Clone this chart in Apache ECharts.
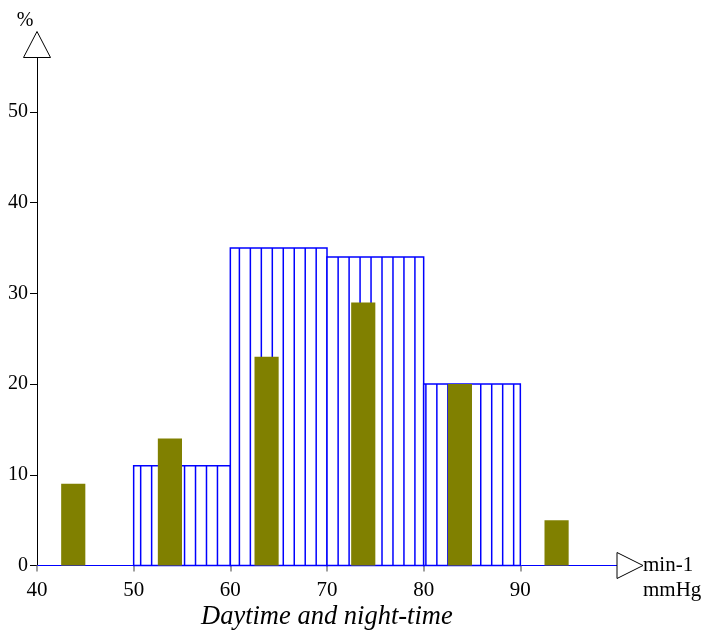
<!DOCTYPE html>
<html>
<head>
<meta charset="utf-8">
<script src="https://cdn.jsdelivr.net/npm/echarts@6/dist/echarts.min.js"></script>
<style>
html,body{margin:0;padding:0;background:#fff;}
#chart{width:706px;height:630px;}
</style>
</head>
<body>
<div id="chart"></div>
<script>
// ---- data ----
var binStarts = [50, 60, 70, 80];
var binEnds = [60, 70, 80, 90];
var binValues = [11, 35, 34, 20];           // hatched blue histogram (%)
var oliveBins = [40, 50, 60, 70, 80, 90];
var oliveValues = [9, 14, 23, 29, 20, 5];   // olive bars (%)
var xTickLabels = [40, 50, 60, 70, 80, 90];
var yTickLabels = [0, 10, 20, 30, 40, 50];
var titleText = 'Daytime and night-time';
var yUnit = '%';
var xUnit1 = 'min-1';
var xUnit2 = 'mmHg';

var FONT = '"Liberation Serif", "Times New Roman", serif';
var chart = echarts.init(document.getElementById('chart'), null, {renderer: 'canvas'});

var blueData = binStarts.map(function (s, i) { return [s, binEnds[i], binValues[i]]; });
var oliveData = oliveBins.map(function (b, i) { return [b, oliveValues[i]]; });

var option = {
  backgroundColor: '#fff',
  animation: false,
  grid: {left: 37, right: 89, top: 57.5, bottom: 64.5, containLabel: false},
  xAxis: {
    type: 'value', min: 40, max: 100, interval: 10,
    splitLine: {show: false},
    axisLine: {show: true, onZero: false, lineStyle: {color: '#0000ff', width: 1}},
    axisTick: {show: true, length: 6, customValues: xTickLabels, lineStyle: {color: '#808080', width: 1.5}},
    axisLabel: {customValues: xTickLabels, color: '#000', fontFamily: FONT, fontSize: 21, margin: 14}
  },
  yAxis: {
    type: 'value', min: 0, max: 56, interval: 10,
    splitLine: {show: false},
    axisLine: {show: true, lineStyle: {color: '#000', width: 1}},
    axisTick: {show: true, length: 7, customValues: yTickLabels, lineStyle: {color: '#000'}},
    axisLabel: {customValues: yTickLabels, color: '#000', fontFamily: FONT, fontSize: 20, margin: 9}
  },
  title: {
    text: titleText, left: 196, top: 599,
    textStyle: {fontFamily: FONT, fontStyle: 'italic', fontWeight: 'normal', fontSize: 26.5, color: '#000'}
  },
  series: [
    {
      type: 'custom', name: 'hatched', z: 2, clip: false,
      data: blueData,
      encode: {x: [0, 1], y: 2},
      renderItem: function (params, api) {
        var p0 = api.coord([api.value(0), 0]);
        var p1 = api.coord([api.value(1), api.value(2)]);
        var anchor = api.coord([binStarts[0], 0])[0] + 7;
        var step = 10.97;
        var children = [];
        var x0 = p0[0], x1 = p1[0], yb = p0[1], yt = p1[1];
        children.push({type: 'rect', shape: {x: x0, y: yt, width: x1 - x0, height: yb - yt},
          style: {fill: '#fff', stroke: '#0000ff', lineWidth: 1.5}});
        var k0 = Math.ceil((x0 + 2 - anchor) / step);
        for (var k = k0; ; k++) {
          var x = anchor + k * step;
          if (x > x1 - 2) break;
          children.push({type: 'line', shape: {x1: x, y1: yt, x2: x, y2: yb},
            style: {stroke: '#0000ff', lineWidth: 1.5}});
        }
        return {type: 'group', children: children};
      }
    },
    {
      type: 'custom', name: 'olive', z: 3, clip: false,
      data: oliveData,
      encode: {x: 0, y: 1},
      renderItem: function (params, api) {
        var b = api.value(0);
        var p0 = api.coord([b + 2.5, 0]);
        var p1 = api.coord([b + 5, api.value(1)]);
        return {type: 'rect', shape: {x: p0[0], y: p1[1], width: p1[0] - p0[0], height: p0[1] - p1[1]},
          style: {fill: '#808000'}};
      }
    },
    {
      type: 'custom', name: 'arrows', z: 5, clip: false, silent: true,
      data: [[100, 56]],
      encode: {x: 0, y: 1},
      renderItem: function (params, api) {
        var xe = api.coord([100, 0]);
        var ye = api.coord([40, 56]);
        return {type: 'group', children: [
          {type: 'polygon', shape: {points: [[ye[0] - 13.5, ye[1]], [ye[0] + 13.5, ye[1]], [ye[0], ye[1] - 26]]},
            style: {fill: '#fff', stroke: '#000', lineWidth: 1}},
          {type: 'polygon', shape: {points: [[xe[0], xe[1] - 13], [xe[0], xe[1] + 13], [xe[0] + 26, xe[1]]]},
            style: {fill: '#fff', stroke: '#000', lineWidth: 1}},
          {type: 'text', style: {text: yUnit, x: ye[0] - 12, y: ye[1] - 37, align: 'center', verticalAlign: 'middle',
            font: '20px ' + FONT, fill: '#000'}},
          {type: 'text', style: {text: xUnit1, x: xe[0] + 26, y: xe[1], align: 'left', verticalAlign: 'middle',
            font: '21px ' + FONT, fill: '#000'}},
          {type: 'text', style: {text: xUnit2, x: xe[0] + 26, y: xe[1] + 25, align: 'left', verticalAlign: 'middle',
            font: '21px ' + FONT, fill: '#000'}}
        ]};
      }
    }
  ]
};
chart.setOption(option);
</script>
</body>
</html>
